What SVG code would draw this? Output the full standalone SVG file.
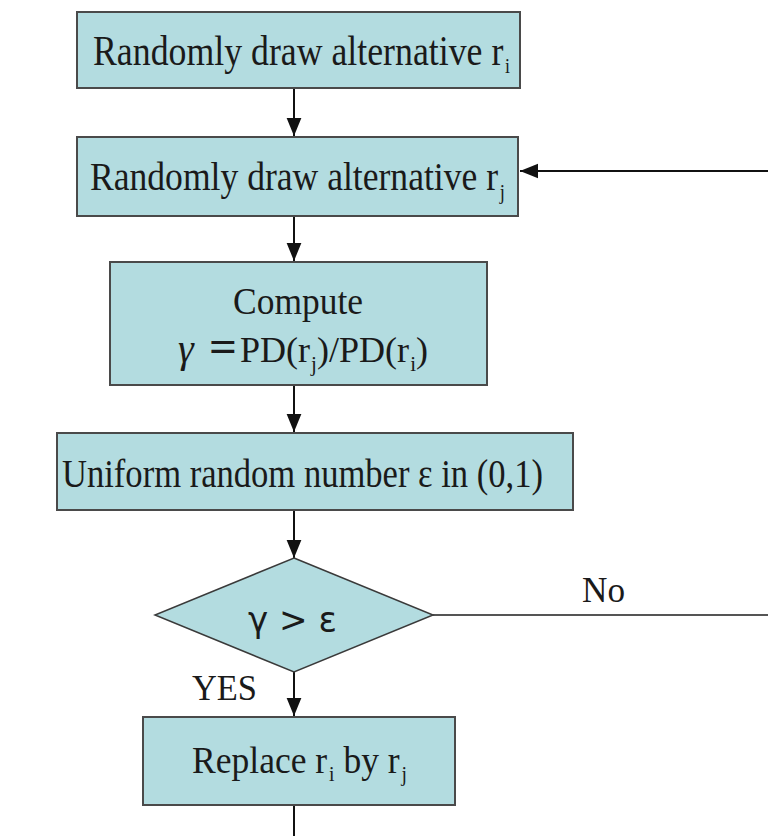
<svg xmlns="http://www.w3.org/2000/svg" width="768" height="836" viewBox="0 0 768 836">
<style>
.box{fill:#b3dce0;stroke:#4a4a4a;stroke-width:2}
.dia{fill:#b3dce0;stroke:#3a3a3a;stroke-width:1.5}
.t{font-family:"Liberation Serif","Times New Roman",serif;fill:#1a1a1a}
.sub{font-size:21px}
.ln{stroke:#111;stroke-width:2;fill:none}
.ln2{stroke:#555;stroke-width:2;fill:none}
</style>
<defs>
<marker id="ah" markerWidth="18" markerHeight="22" refX="22" refY="9" viewBox="0 0 22 18" orient="auto" markerUnits="userSpaceOnUse">
<path d="M0,0 L22,9 L0,18 Z" fill="#111"/>
</marker>
</defs>
<rect width="768" height="836" fill="#ffffff"/>
<g id="connectors">
<line class="ln" x1="294" y1="88" x2="294" y2="136" marker-end="url(#ah)"/>
<line class="ln" x1="294" y1="216" x2="294" y2="261" marker-end="url(#ah)"/>
<line class="ln" x1="294" y1="385" x2="294" y2="432" marker-end="url(#ah)"/>
<line class="ln" x1="294" y1="510" x2="294" y2="558" marker-end="url(#ah)"/>
<line class="ln" x1="294" y1="672" x2="294" y2="716" marker-end="url(#ah)"/>
<line class="ln" x1="294" y1="805" x2="294" y2="836"/>
<line class="ln2" x1="433" y1="615" x2="768" y2="615"/>
<line class="ln" x1="768" y1="171" x2="520" y2="171" marker-end="url(#ah)"/>
<text class="t" x="582" y="602" font-size="36" textLength="43" lengthAdjust="spacingAndGlyphs">No</text>
<text class="t" x="192" y="700" font-size="36" textLength="65" lengthAdjust="spacingAndGlyphs">YES</text>
</g>
<g id="node-draw-ri">
<rect class="box" x="77" y="12" width="443" height="76"/>
<text class="t" x="93" y="65" font-size="42" textLength="417" lengthAdjust="spacingAndGlyphs">Randomly draw alternative r<tspan class="sub" dx="2" dy="8">i</tspan></text>
</g>
<g id="node-draw-rj">
<rect class="box" x="77" y="137" width="441" height="79"/>
<text class="t" x="90" y="190" font-size="40" textLength="415" lengthAdjust="spacingAndGlyphs">Randomly draw alternative r<tspan class="sub" dx="2" dy="9">j</tspan></text>
</g>
<g id="node-compute">
<rect class="box" x="110" y="262" width="377" height="123"/>
<text class="t" x="233" y="314" font-size="38" textLength="130" lengthAdjust="spacingAndGlyphs">Compute</text>
<text class="t" x="178" y="362" font-size="40" font-style="italic">γ</text>
<text class="t" x="209" y="361" font-size="44" font-weight="bold" textLength="28" lengthAdjust="spacingAndGlyphs">=</text>
<text class="t" x="240" y="362" font-size="36" textLength="188" lengthAdjust="spacingAndGlyphs">PD(r<tspan class="sub" dx="1" dy="9">j</tspan><tspan dy="-9">)/PD(r</tspan><tspan class="sub" dx="1" dy="9">i</tspan><tspan dy="-9">)</tspan></text>
</g>
<g id="node-uniform">
<rect class="box" x="57" y="433" width="516" height="77"/>
<text class="t" x="62" y="487" font-size="40" textLength="481" lengthAdjust="spacingAndGlyphs">Uniform random number ε in (0,1)</text>
</g>
<g id="node-decision">
<polygon class="dia" points="294,558 433,615 294,672 155,615"/>
<text x="248" y="632" font-size="36" font-family="DejaVu Sans, sans-serif" fill="#1a1a1a" textLength="89" lengthAdjust="spacingAndGlyphs">γ &gt; ε</text>
</g>
<g id="node-replace">
<rect class="box" x="143" y="717" width="312" height="88"/>
<text class="t" x="192" y="773" font-size="38" textLength="215" lengthAdjust="spacingAndGlyphs">Replace r<tspan class="sub" dx="2" dy="8">i</tspan><tspan dy="-8"> by r</tspan><tspan class="sub" dx="2" dy="8">j</tspan></text>
</g>
</svg>
